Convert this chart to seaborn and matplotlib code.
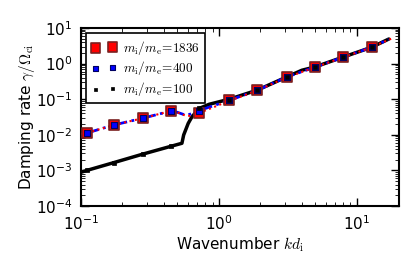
import matplotlib
matplotlib.use("Agg")
import numpy as np
import matplotlib.pyplot as plt
import seaborn as sns

# marker data
k_pts = [0.11, 0.174, 0.283, 0.452, 0.72, 1.19, 1.9, 3.1, 4.95, 8.0, 12.9]
g_1836 = [0.0112, 0.019, 0.0295, 0.047, 0.041, 0.095, 0.18, 0.42, 0.80, 1.53, 2.9]
g_400 = [0.0112, 0.019, 0.0295, 0.047, 0.048, 0.095, 0.18, 0.42, 0.80, 1.53, 2.9]
g_100 = [0.0010, 0.00167, 0.0029, 0.0048, 0.057, 0.095, 0.18, 0.42, 0.80, 1.53, 2.9]

# curve data
k_line_1836 = [0.101, 0.11, 0.174, 0.283, 0.452, 0.50, 0.57, 0.62, 0.72, 1.19, 1.9, 3.1, 4.95, 8.0, 12.9, 18.0]
g_line_1836 = [0.0105, 0.0112, 0.019, 0.0295, 0.047, 0.043, 0.035, 0.034, 0.041, 0.09, 0.175, 0.41, 0.78, 1.5, 2.9, 5.1]
k_line_400 = [0.101, 0.11, 0.174, 0.283, 0.452, 0.50, 0.57, 0.62, 0.72, 1.19, 1.9, 3.1, 4.95, 8.0, 12.9, 17.0]
g_line_400 = [0.0105, 0.0112, 0.019, 0.0295, 0.047, 0.043, 0.036, 0.038, 0.048, 0.093, 0.178, 0.42, 0.79, 1.52, 2.9, 4.8]
k_line_100 = [0.101, 0.11, 0.174, 0.283, 0.452, 0.54, 0.556, 0.60, 0.638, 0.72, 0.85, 1.19, 1.9, 3.1, 4.0, 4.95, 8.0, 12.9, 17.1]
g_line_100 = [0.0009, 0.0010, 0.00167, 0.0029, 0.0048, 0.0058, 0.0099, 0.021, 0.032, 0.055, 0.072, 0.10, 0.18, 0.42, 0.65, 0.80, 1.53, 2.9, 4.9]

sns.set_style("white")
plt.rcParams.update({
    "xtick.direction": "in", "ytick.direction": "in",
    "xtick.top": True, "ytick.right": True,
    "xtick.bottom": True, "ytick.left": True,
    "xtick.major.size": 6, "ytick.major.size": 6,
    "xtick.minor.size": 3, "ytick.minor.size": 3,
    "xtick.major.width": 1.0, "ytick.major.width": 1.0,
    "xtick.minor.visible": True, "ytick.minor.visible": True,
    "xtick.color": "black", "ytick.color": "black",
    "axes.labelcolor": "black", "text.color": "black",
    "font.family": ["DejaVu Sans"],
})

fig = plt.figure(figsize=(4.15, 2.77), dpi=100)
ax = fig.add_axes([0.195, 0.256, 0.766, 0.643])

sns.lineplot(x=k_line_100, y=g_line_100, ax=ax, color="black", lw=2.5, sort=False, zorder=2)
sns.lineplot(x=k_line_400, y=g_line_400, ax=ax, color="blue", lw=2, ls="-.", sort=False, zorder=3)
sns.lineplot(x=k_line_1836, y=g_line_1836, ax=ax, color="red", lw=1.5, ls=":", sort=False, zorder=3)

sns.scatterplot(x=k_pts, y=g_1836, ax=ax, marker="s", s=48, color="red",
                edgecolor="#7a2020", linewidth=1.2, zorder=4,
                label=r"$m_\mathrm{i}/m_\mathrm{e}\!=\!1836$")
sns.scatterplot(x=k_pts, y=g_400, ax=ax, marker="s", s=16, color="blue",
                edgecolor="#000060", linewidth=0.8, zorder=5,
                label=r"$m_\mathrm{i}/m_\mathrm{e}\!=\!400$")
sns.scatterplot(x=k_pts, y=g_100, ax=ax, marker="s", s=5, color="black",
                edgecolor="black", linewidth=0.5, zorder=6,
                label=r"$m_\mathrm{i}/m_\mathrm{e}\!=\!100$")

ax.set_xscale("log")
ax.set_yscale("log")
ax.set_xlim(0.1, 20.2)
ax.set_ylim(1e-4, 10)

for s in ax.spines.values():
    s.set_linewidth(1.5)
    s.set_color("black")

ax.tick_params(labelsize=11, pad=6)
ax.set_xlabel(r"Wavenumber $kd_\mathrm{i}$", fontsize=11, math_fontfamily="cm", labelpad=2)
ax.set_ylabel(r"Damping rate $\gamma/\Omega_\mathrm{ci}$", fontsize=11,
              math_fontfamily="cm", labelpad=-1)

leg = ax.legend(loc="upper left", scatterpoints=2, fancybox=False, framealpha=1,
                edgecolor="black", fontsize=9.5, borderpad=0.4, labelspacing=0.2,
                handlelength=1.9, handletextpad=0.5, borderaxespad=0.4)
leg.get_frame().set_linewidth(1.2)
for t in leg.get_texts():
    t.set_math_fontfamily("cm")

fig.savefig("out.png", dpi=100)
